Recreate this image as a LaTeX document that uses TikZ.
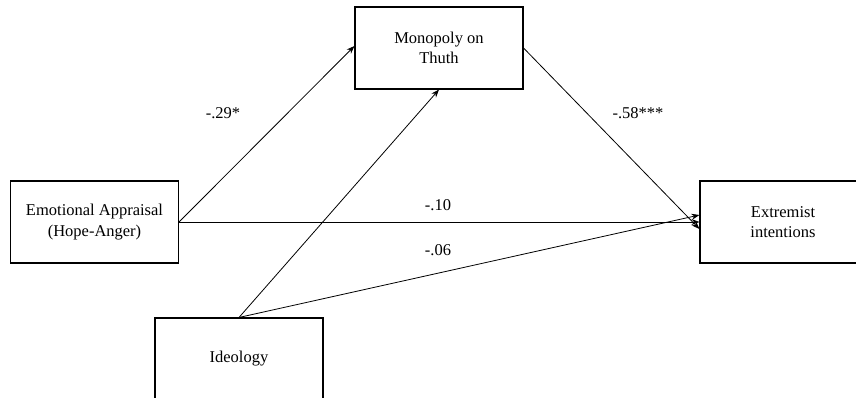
\documentclass[tikz,border=0pt]{standalone}
\usepackage{fontspec}
\setmainfont{Liberation Serif}
\usetikzlibrary{arrows.meta}
\begin{document}
\begin{tikzpicture}[x=1pt,y=-1pt,
  box/.style={draw, line width=1.1pt, minimum width=168pt, minimum height=82pt,
    inner sep=0pt, align=center, font=\fontsize{16.5}{20.7}\selectfont},
  lab/.style={font=\fontsize{16.5}{20.7}\selectfont},
  conn/.style={line width=0.8pt, -{Stealth[length=8pt,width=6pt]}}]
\useasboundingbox (0,0) rectangle (856,397);
\clip (0,0) rectangle (856,397);
\node[box] (mono) at (439,48) {Monopoly on\\Thuth};
\node[box] (emo) at (94.5,222) {Emotional Appraisal\\(Hope-Anger)};
\node[box, minimum width=166pt] (ext) at (783,222) {Extremist\\intentions};
\node[box] (ideo) at (239,359) {Ideology};
\draw[conn] (emo.east) -- ([yshift=2pt]mono.west);
\draw[conn] (ideo.north) -- (mono.south);
\draw[conn] ([yshift=0pt]mono.east) -- ([yshift=-7pt]ext.west);
\draw[conn] (emo.east) -- (ext.west);
\draw[conn] (ideo.north) -- ([yshift=7pt]ext.west);
\node[lab] (l1) at (223,113) {-.29*};
\node[lab] (l2) at (638,113) {-.58***};
\node[lab] (l3) at (438,205) {-.10};
\node[lab] (l4) at (438,250) {-.06};
\end{tikzpicture}
\end{document}
